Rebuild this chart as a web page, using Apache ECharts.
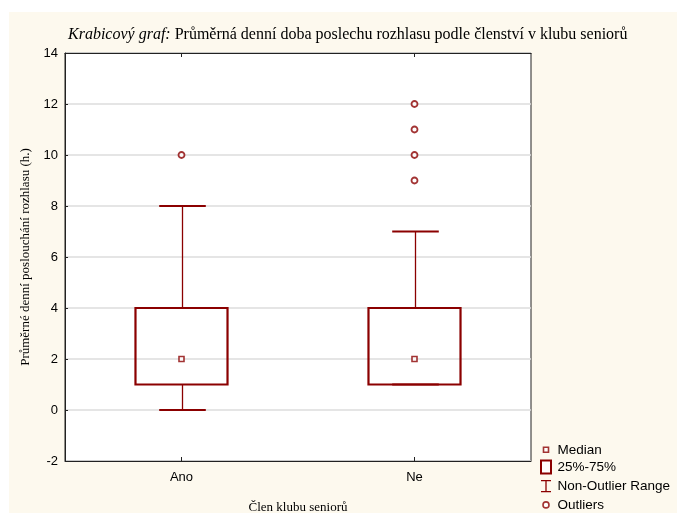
<!DOCTYPE html>
<html>
<head>
<meta charset="utf-8">
<script src="https://cdn.jsdelivr.net/npm/echarts@6/dist/echarts.min.js"></script>
<style>
html,body{margin:0;padding:0;background:#ffffff;}
#bg{position:absolute;left:9px;top:12px;width:668px;height:501px;background:#fdf9ee;}
#chart{position:absolute;left:0;top:0;width:677px;height:513px;}
</style>
</head>
<body>
<div id="bg"></div>
<div id="chart"></div>
<script>
// ---- data ----
var categories = ['Ano', 'Ne'];
var minVals    = [0, 1];
var q1Vals     = [1, 1];
var medians    = [2, 2];
var q3Vals     = [4, 4];
var maxVals    = [8, 7];
var outliersAno = [10];
var outliersNe  = [9, 10, 11, 12];
var yTicks = [-2, 0, 2, 4, 6, 8, 10, 12, 14];

var RED = '#8b0000';
var SERIF = '"Liberation Serif", "Times New Roman", serif';
var SANS = '"Liberation Sans", Arial, sans-serif';

var boxData = categories.map(function (c, i) { return [i, q1Vals[i], q3Vals[i]]; });
var whiskerData = categories.map(function (c, i) { return [i, minVals[i], q1Vals[i], q3Vals[i], maxVals[i]]; });
var medianData = categories.map(function (c, i) { return [i, medians[i]]; });
var outlierData = outliersAno.map(function (v) { return [0, v]; })
  .concat(outliersNe.map(function (v) { return [1, v]; }));

var chart = echarts.init(document.getElementById('chart'), null, { renderer: 'canvas' });

var option = {
  backgroundColor: 'transparent',
  animation: false,
  title: {
    text: '{i|Krabicový graf:} Průměrná denní doba poslechu rozhlasu podle členství v klubu seniorů',
    left: 63,
    top: 22,
    textStyle: {
      fontFamily: SERIF, fontSize: 16, fontWeight: 'normal', color: '#000',
      rich: { i: { fontFamily: SERIF, fontSize: 16, fontStyle: 'italic', color: '#000' } }
    }
  },
  grid: {
    left: 65, right: 146, top: 53, bottom: 52,
    outerBoundsMode: 'none',
    containLabel: false,
    show: true, backgroundColor: '#ffffff', borderColor: '#222', borderWidth: 1
  },
  legend: {
    orient: 'vertical',
    left: 532,
    top: 437,
    height: 100,
    padding: 5,
    itemWidth: 13,
    itemHeight: 14,
    itemGap: 1.5,
    selectedMode: false,
    textStyle: { fontFamily: SANS, fontSize: 13.5, color: '#000', lineHeight: 14 },
    data: [
      { name: 'Median', icon: 'path://M0,0M13,14M4,4.5h5v5h-5z',
        itemStyle: { color: '#fff', borderColor: RED, borderWidth: 1.6 } },
      { name: '25%-75%', icon: 'path://M0,0M13,14M1.5,0.5h10v13h-10z',
        itemStyle: { color: '#fff', borderColor: RED, borderWidth: 2 } },
      { name: 'Non-Outlier Range', icon: 'path://M0,0M13,14M1.5,1.5h10M6.5,1.5v11M1.5,12.5h10',
        itemStyle: { color: 'none', borderColor: RED, borderWidth: 1.3 } },
      { name: 'Outliers', icon: 'path://M0,0M13,14M9.5,7a3,3 0 1,1 -6,0a3,3 0 1,1 6,0z',
        itemStyle: { color: '#fff', borderColor: RED, borderWidth: 1.6 } }
    ]
  },
  xAxis: [
    {
      type: 'category',
      data: categories,
      position: 'bottom',
      name: 'Člen klubu seniorů',
      nameLocation: 'middle',
      nameGap: 40,
      nameTextStyle: { fontFamily: SERIF, fontSize: 13, color: '#000' },
      axisLine: { show: true, onZero: false, lineStyle: { color: '#222', width: 1 } },
      axisTick: { show: true, inside: true, alignWithLabel: true, length: 4, lineStyle: { color: '#222' } },
      axisLabel: { fontFamily: SANS, fontSize: 13, color: '#000', margin: 10 },
      splitLine: { show: false }
    },
    {
      type: 'category',
      data: categories,
      position: 'top',
      axisLine: { show: true, onZero: false, lineStyle: { color: '#222', width: 1 } },
      axisTick: { show: true, inside: true, alignWithLabel: true, length: 4, lineStyle: { color: '#222' } },
      axisLabel: { show: false },
      splitLine: { show: false }
    }
  ],
  yAxis: {
    type: 'value',
    min: yTicks[0],
    max: yTicks[yTicks.length - 1],
    interval: 2,
    name: 'Průměrné denní poslouchání rozhlasu (h.)',
    nameLocation: 'middle',
    nameGap: 33,
    nameTextStyle: { fontFamily: SERIF, fontSize: 13, color: '#000' },
    axisLine: { show: true, lineStyle: { color: '#222', width: 1 } },
    axisTick: { show: true, inside: true, length: 3, lineStyle: { color: '#222' } },
    axisLabel: { fontFamily: SANS, fontSize: 13, color: '#000', margin: 7 },
    splitLine: { show: true, lineStyle: { color: '#dcdcdc', width: 1.5 } }
  },
  series: [
    {
      name: 'Non-Outlier Range',
      type: 'custom',
      xAxisIndex: 0,
      data: whiskerData,
      itemStyle: { color: RED },
      z: 2,
      renderItem: function (params, api) {
        var x = api.value(0);
        var pMin = api.coord([x, api.value(1)]);
        var pQ1 = api.coord([x, api.value(2)]);
        var pQ3 = api.coord([x, api.value(3)]);
        var pMax = api.coord([x, api.value(4)]);
        var band = api.size([1, 0])[0];
        var half = band * 0.1;
        var cx = Math.round(pMin[0]) + 0.5;
        var st = { stroke: RED, lineWidth: 1.3, fill: null };
        var stCap = { stroke: RED, lineWidth: 2, fill: null };
        return {
          type: 'group',
          children: [
            { type: 'line', shape: { x1: cx, y1: pQ3[1], x2: cx, y2: pMax[1] }, style: st },
            { type: 'line', shape: { x1: cx, y1: pQ1[1], x2: cx, y2: pMin[1] }, style: st },
            { type: 'line', shape: { x1: cx - half, y1: pMax[1], x2: cx + half, y2: pMax[1] }, style: stCap },
            { type: 'line', shape: { x1: cx - half, y1: pMin[1], x2: cx + half, y2: pMin[1] }, style: stCap }
          ]
        };
      }
    },
    {
      name: '25%-75%',
      type: 'custom',
      xAxisIndex: 0,
      data: boxData,
      itemStyle: { color: RED },
      z: 3,
      renderItem: function (params, api) {
        var x = api.value(0);
        var pLo = api.coord([x, api.value(1)]);
        var pHi = api.coord([x, api.value(2)]);
        var band = api.size([1, 0])[0];
        var w = band * 0.395;
        return {
          type: 'rect',
          shape: { x: pLo[0] - w / 2, y: pHi[1], width: w, height: pLo[1] - pHi[1] },
          style: { fill: 'rgba(255,255,255,0)', stroke: RED, lineWidth: 2.2 }
        };
      }
    },
    {
      name: 'Median',
      type: 'scatter',
      data: medianData,
      symbol: 'rect',
      symbolSize: 5,
      itemStyle: { color: '#fff', borderColor: RED, borderWidth: 1.6 },
      z: 4
    },
    {
      name: 'Outliers',
      type: 'scatter',
      data: outlierData,
      symbol: 'circle',
      symbolSize: 6,
      itemStyle: { color: '#fff', borderColor: RED, borderWidth: 1.8 },
      z: 4
    }
  ]
};
chart.setOption(option);
</script>
</body>
</html>
